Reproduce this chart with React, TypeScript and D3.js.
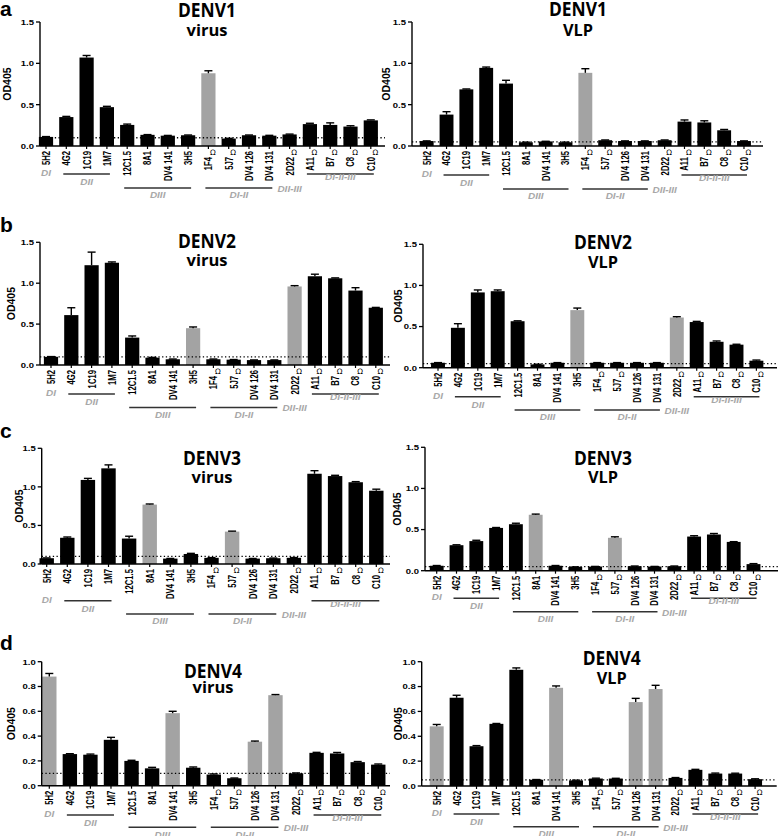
import React from "react";
import * as d3 from "d3";

const categories = ["5H2", "4G2", "1C19", "1M7", "12C1.5", "8A1", "DV4 141", "3H5", "1F4", "5J7", "DV4 126", "DV4 131", "2D22", "A11", "B7", "C8", "C10"];
const omegaLabels = ["1F4", "5J7", "2D22", "A11", "B7", "C8", "C10"];

const denv1Virus = [0.11, 0.35, 1.07, 0.47, 0.255, 0.135, 0.125, 0.13, 0.88, 0.09, 0.13, 0.125, 0.14, 0.265, 0.255, 0.235, 0.31];
const denv1VirusErr = [0.004, 0.008, 0.025, 0.01, 0.01, 0.003, 0.003, 0.003, 0.03, 0.003, 0.003, 0.004, 0.004, 0.01, 0.025, 0.01, 0.006];
const denv1VLP = [0.06, 0.38, 0.685, 0.945, 0.755, 0.045, 0.055, 0.045, 0.885, 0.07, 0.06, 0.06, 0.07, 0.295, 0.285, 0.19, 0.06];
const denv1VLPErr = [0.002, 0.035, 0.005, 0.01, 0.04, 0.002, 0.002, 0.002, 0.05, 0.003, 0.002, 0.002, 0.003, 0.02, 0.02, 0.01, 0.002];

const denv2Virus = [0.1, 0.61, 1.22, 1.25, 0.335, 0.09, 0.07, 0.45, 0.07, 0.065, 0.06, 0.06, 0.96, 1.085, 1.06, 0.91, 0.7];
const denv2VirusErr = [0.003, 0.09, 0.16, 0.01, 0.02, 0.003, 0.003, 0.015, 0.003, 0.002, 0.002, 0.002, 0.01, 0.025, 0.005, 0.035, 0.004];
const denv2VLP = [0.06, 0.485, 0.915, 0.93, 0.565, 0.04, 0.06, 0.7, 0.06, 0.06, 0.06, 0.06, 0.61, 0.555, 0.315, 0.28, 0.085];
const denv2VLPErr = [0.002, 0.05, 0.03, 0.015, 0.005, 0.002, 0.002, 0.025, 0.002, 0.002, 0.002, 0.002, 0.01, 0.008, 0.01, 0.005, 0.008];

const denv3Virus = [0.075, 0.34, 1.09, 1.24, 0.33, 0.77, 0.07, 0.13, 0.08, 0.42, 0.07, 0.075, 0.08, 1.17, 1.14, 1.06, 0.95];
const denv3VirusErr = [0.004, 0.01, 0.02, 0.045, 0.03, 0.008, 0.002, 0.008, 0.003, 0.006, 0.002, 0.002, 0.004, 0.04, 0.01, 0.008, 0.02];
const denv3VLP = [0.06, 0.31, 0.36, 0.52, 0.565, 0.68, 0.06, 0.045, 0.05, 0.4, 0.055, 0.05, 0.055, 0.415, 0.44, 0.35, 0.08];
const denv3VLPErr = [0.003, 0.005, 0.01, 0.005, 0.012, 0.008, 0.003, 0.002, 0.002, 0.012, 0.002, 0.002, 0.002, 0.01, 0.012, 0.003, 0.006];

const denv4Virus = [0.88, 0.255, 0.25, 0.37, 0.2, 0.14, 0.585, 0.145, 0.09, 0.06, 0.355, 0.73, 0.1, 0.265, 0.26, 0.19, 0.17];
const denv4VirusErr = [0.025, 0.003, 0.005, 0.02, 0.005, 0.008, 0.015, 0.006, 0.005, 0.002, 0.005, 0.005, 0.003, 0.004, 0.008, 0.005, 0.005];
const denv4VLP = [0.48, 0.71, 0.32, 0.5, 0.935, 0.05, 0.79, 0.045, 0.06, 0.06, 0.675, 0.78, 0.065, 0.13, 0.1, 0.1, 0.055];
const denv4VLPErr = [0.015, 0.02, 0.005, 0.003, 0.015, 0.002, 0.015, 0.002, 0.003, 0.002, 0.03, 0.03, 0.003, 0.004, 0.004, 0.003, 0.003];

const grayDenv1 = ["1F4"];
const grayDenv2 = ["3H5", "2D22"];
const grayDenv3 = ["8A1", "5J7"];
const grayDenv4 = ["5H2", "DV4 141", "DV4 126", "DV4 131"];

const ticks15 = [0, 0.5, 1.0, 1.5];
const ticks10 = [0, 0.2, 0.4, 0.6, 0.8, 1.0];

const domainGroups = [
  { name: "DI", from: 0, to: 0, row: "di" },
  { name: "DII", from: 1, to: 3, row: "A" },
  { name: "DIII", from: 4, to: 7, row: "B" },
  { name: "DI-II", from: 8, to: 11, row: "B" },
  { name: "DII-III", from: 12, to: 12, row: "diii" },
  { name: "DI-II-III", from: 13, to: 16, row: "A" },
];

type P = {
  letter?: string; letterY?: number; title: string; sub: string; titleX: number; titleY: number; subY: number;
  axisX: number; yTop: number; y0: number; end: number; c0: number; step: number; yMax: number; ticks: number[];
  values: number[]; errs: number[]; grays: string[]; thr: number; lineA: number; lineB: number; odX: number;
};

const panels: P[] = [
  { letter: "a", letterY: 16, title: "DENV1", sub: "virus", titleX: 207, titleY: 10, subY: 31, axisX: 40, yTop: 22, y0: 146, end: 385, c0: 46, step: 20.3, yMax: 1.5, ticks: ticks15, values: denv1Virus, errs: denv1VirusErr, grays: grayDenv1, thr: 0.1, lineA: 174, lineB: 188, odX: 7 },
  { title: "DENV1", sub: "VLP", titleX: 578, titleY: 8.5, subY: 31, axisX: 412, yTop: 22, y0: 146, end: 763, c0: 426.7, step: 19.83, yMax: 1.5, ticks: ticks15, values: denv1VLP, errs: denv1VLPErr, grays: grayDenv1, thr: 0.05, lineA: 175, lineB: 189, odX: 386 },
  { letter: "b", letterY: 232, title: "DENV2", sub: "virus", titleX: 207, titleY: 241, subY: 261, axisX: 40, yTop: 242.3, y0: 365, end: 390, c0: 51, step: 20.3, yMax: 1.5, ticks: ticks15, values: denv2Virus, errs: denv2VirusErr, grays: grayDenv2, thr: 0.1, lineA: 394, lineB: 407.5, odX: 11 },
  { title: "DENV2", sub: "VLP", titleX: 603, titleY: 242, subY: 263, axisX: 423, yTop: 244.3, y0: 367.7, end: 777, c0: 438, step: 19.9, yMax: 1.5, ticks: ticks15, values: denv2VLP, errs: denv2VLPErr, grays: grayDenv2, thr: 0.05, lineA: 396.7, lineB: 410, odX: 398 },
  { letter: "c", letterY: 438, title: "DENV3", sub: "virus", titleX: 212, titleY: 457.7, subY: 478, axisX: 41.7, yTop: 448.3, y0: 564, end: 390, c0: 46.7, step: 20.6, yMax: 1.5, ticks: ticks15, values: denv3Virus, errs: denv3VirusErr, grays: grayDenv3, thr: 0.1, lineA: 600.7, lineB: 614, odX: 19 },
  { title: "DENV3", sub: "VLP", titleX: 603, titleY: 457.7, subY: 478, axisX: 425, yTop: 447.3, y0: 570.7, end: 778, c0: 436.7, step: 19.8, yMax: 1.5, ticks: ticks15, values: denv3VLP, errs: denv3VLPErr, grays: grayDenv3, thr: 0.05, lineA: 598.3, lineB: 611.7, odX: 397 },
  { letter: "d", letterY: 650, title: "DENV4", sub: "virus", titleX: 213, titleY: 671, subY: 688, axisX: 41.7, yTop: 661.7, y0: 785.7, end: 390, c0: 49.3, step: 20.56, yMax: 1.0, ticks: ticks10, values: denv4Virus, errs: denv4VirusErr, grays: grayDenv4, thr: 0.1, lineA: 815, lineB: 827.3, odX: 11 },
  { title: "DENV4", sub: "VLP", titleX: 611.7, titleY: 658, subY: 679, axisX: 421.7, yTop: 661.7, y0: 786, end: 776.7, c0: 436.7, step: 19.9, yMax: 1.0, ticks: ticks10, values: denv4VLP, errs: denv4VLPErr, grays: grayDenv4, thr: 0.05, lineA: 814, lineB: 826.7, odX: 398 },
];

const SANS = "'Liberation Sans', Arial, sans-serif";

function Panel({ p }: { p: P }) {
  const y = d3.scaleLinear().domain([0, p.yMax]).range([p.y0, p.yTop]);
  const x = d3.scaleBand<string>().domain(categories)
    .range([p.c0 - p.step / 2, p.c0 + p.step * (categories.length - 0.5)])
    .paddingInner(0.3).paddingOuter(0.15);
  const cx = (c: string) => (x(c) as number) + x.bandwidth() / 2;
  const fmt = d3.format(".1f");
  const midY = (p.y0 + p.yTop) / 2;
  return (
    <g>
      {p.letter && (
        <text x={0} y={p.letterY} fontFamily={SANS} fontWeight="bold" fontSize={21}>{p.letter}</text>
      )}
      <text x={p.titleX} y={p.titleY} dy="0.36em" textAnchor="middle" fontFamily="'Open Sans', sans-serif" fontWeight="bold" fontSize={19.5} textLength={58} lengthAdjust="spacingAndGlyphs">{p.title}</text>
      <text x={p.titleX} y={p.subY} dy="0.32em" textAnchor="middle" fontFamily="'Open Sans', sans-serif" fontWeight="bold" fontSize={15.5} textLength={p.sub === "VLP" ? 30 : 41} lengthAdjust="spacingAndGlyphs">{p.sub}</text>
      <text transform={`translate(${p.odX},${midY}) rotate(-90)`} dy="0.35em" textAnchor="middle" fontFamily={SANS} fontWeight="bold" fontSize={10.5}>OD405</text>
      {categories.map((c, i) => (
        <rect key={c} x={x(c)} y={y(p.values[i])} width={x.bandwidth()} height={p.y0 - y(p.values[i])}
          fill={p.grays.includes(c) ? "#a3a3a3" : "#000"} />
      ))}
      {categories.map((c, i) => {
        const top = y(p.values[i] + p.errs[i]);
        return (
          <g key={"e" + c} stroke="#000" strokeWidth={1.4}>
            <line x1={cx(c)} x2={cx(c)} y1={y(p.values[i])} y2={top} />
            <line x1={cx(c) - 4} x2={cx(c) + 4} y1={top} y2={top} />
          </g>
        );
      })}
      <line x1={p.axisX} x2={p.end} y1={y(p.thr)} y2={y(p.thr)} stroke="#000" strokeWidth={1.3} strokeDasharray="1.3,2.4" />
      <line x1={p.axisX} x2={p.axisX} y1={p.yTop} y2={p.y0} stroke="#000" strokeWidth={1.4} />
      {p.ticks.map((t) => (
        <g key={t}>
          <line x1={p.axisX - 4} x2={p.axisX} y1={y(t)} y2={y(t)} stroke="#000" strokeWidth={1.3} />
          <text transform={`translate(${p.axisX - 6},${y(t)}) scale(1,0.85)`} dy="0.35em" textAnchor="end" fontFamily={SANS} fontWeight="bold" fontSize={9.5}>{fmt(t)}</text>
        </g>
      ))}
      <line x1={p.axisX} x2={p.end} y1={p.y0} y2={p.y0} stroke="#000" strokeWidth={1.6} />
      {categories.map((c) => (
        <line key={"t" + c} x1={cx(c)} x2={cx(c)} y1={p.y0} y2={p.y0 + 3} stroke="#000" strokeWidth={1.2} />
      ))}
      {categories.map((c) => {
        const om = omegaLabels.includes(c);
        return (
          <g key={"l" + c}>
            <text transform={`translate(${cx(c)},${p.y0 + (om ? 11 : 5)}) rotate(-90) scale(0.7,1)`} dy="0.36em" textAnchor="end" fontFamily={SANS} fontWeight="bold" fontSize={11}>{c}</text>
            {om && (
              <text x={cx(c) + 4.5} y={p.y0 + 6.5} dy="0.35em" textAnchor="middle" fontFamily="'DejaVu Sans', sans-serif" fontSize={7.5}>Ω</text>
            )}
          </g>
        );
      })}
      {domainGroups.map((g) => {
        const x1 = cx(categories[g.from]);
        const x2 = cx(categories[g.to]);
        const mid = (x1 + x2) / 2;
        let lineY: number | null = null;
        let textY = 0;
        if (g.row === "A") { lineY = p.lineA; textY = g.name === "DII" ? p.lineA + 8 : p.lineA + 3; }
        else if (g.row === "B") { lineY = p.lineB; textY = p.lineB + 7.5; }
        else if (g.row === "di") { textY = p.lineA - 1; }
        else { textY = p.lineB + 1; }
        return (
          <g key={g.name}>
            {lineY !== null && (
              <line x1={x1 - 3} x2={x2 + 3} y1={lineY} y2={lineY} stroke="#333" strokeWidth={1.4} />
            )}
            <text transform={`translate(${mid},${textY}) scale(1,0.85)`} dy="0.35em" textAnchor="middle" fontFamily={SANS} fontWeight="bold" fontStyle="italic" fontSize={10} fill="#a8a8a8">{g.name}</text>
          </g>
        );
      })}
    </g>
  );
}

export default function App() {
  return (
    <svg width={778} height={836} viewBox="0 0 778 836" style={{ position: "absolute", left: 0, top: 0, background: "#fff" }}>
      <rect x={0} y={0} width={778} height={836} fill="#fff" />
      {panels.map((p, i) => (
        <Panel key={i} p={p} />
      ))}
    </svg>
  );
}
